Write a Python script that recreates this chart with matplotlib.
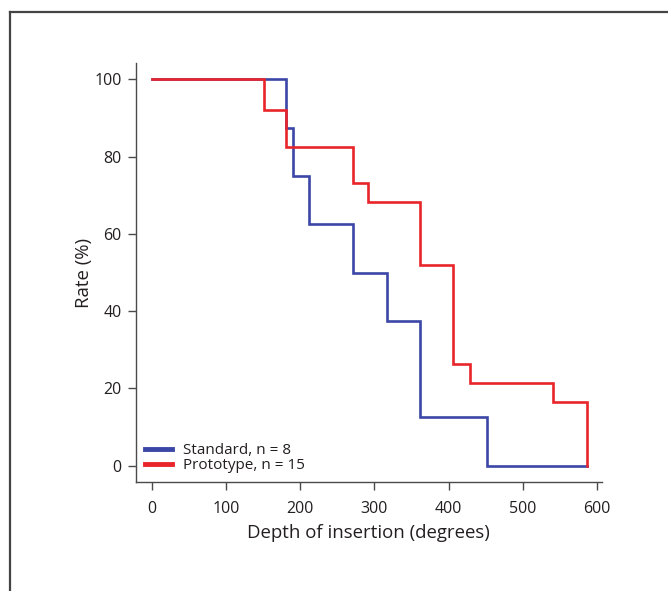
import matplotlib
matplotlib.use("Agg")
import matplotlib.pyplot as plt
from matplotlib.lines import Line2D

plt.rcParams['font.family'] = ['Open Sans', 'DejaVu Sans']

# Kaplan-Meier style step data
standard_depth = [0, 180.6, 190.8, 212, 271, 317, 361.6, 451.5, 586.7]
standard_rate = [100, 87.5, 75, 62.5, 50, 37.5, 12.5, 0, 0]

prototype_depth = [0, 151.8, 180.6, 271, 292, 361.6, 406.5, 429, 541.3, 586.7]
prototype_rate = [100, 92.1, 82.6, 73.1, 68.3, 51.9, 26.2, 21.3, 16.6, 0]

series_labels = ["Standard, n = 8", "Prototype, n = 15"]
x_ticks = [0, 100, 200, 300, 400, 500, 600]
y_ticks = [0, 20, 40, 60, 80, 100]

blue = "#3a47a6"
red = "#e8252b"
ink = "#231f20"
spine_col = "#4a4a4a"

fig = plt.figure(figsize=(6.68, 5.91), dpi=100)
ax = fig.add_axes([0.2031, 0.1839, 0.6977, 0.7100])

ax.step(standard_depth, standard_rate, where='post', color=blue, lw=1.9,
        solid_joinstyle='miter')
ax.step(prototype_depth, prototype_rate, where='post', color=red, lw=1.9,
        solid_joinstyle='miter')

ax.set_xlim(-21.6, 606.5)
ax.set_ylim(-4.3, 104.3)
ax.set_xticks(x_ticks)
ax.set_yticks(y_ticks)

for side in ('top', 'right'):
    ax.spines[side].set_visible(False)
for side in ('left', 'bottom'):
    ax.spines[side].set_color(spine_col)
    ax.spines[side].set_linewidth(1.0)

ax.tick_params(axis='both', direction='out', length=6, width=1.0,
               color=spine_col, labelsize=11.5, labelcolor=ink)
ax.tick_params(axis='y', pad=4)
ax.tick_params(axis='x', pad=7.5)

ax.set_xlabel("Depth of insertion (degrees)", fontsize=13.4, color=ink, labelpad=5)
ax.set_ylabel("Rate (%)", fontsize=13.4, color=ink, labelpad=1)

handles = [Line2D([], [], color=blue, lw=3.5), Line2D([], [], color=red, lw=3.5)]
ax.legend(handles, series_labels, loc='lower left', bbox_to_anchor=(0.0, 0.0),
          frameon=False, fontsize=11.0, handlelength=1.75, handletextpad=0.75,
          labelspacing=0.0, borderaxespad=0.3, borderpad=0.3, labelcolor=ink)

# outer frame lines (top and left)
W, H = 668, 591
fig.add_artist(Line2D([9.5 / W, 1.0], [1 - 11.7 / H, 1 - 11.7 / H],
                      transform=fig.transFigure, color="#444444", lw=1.6))
fig.add_artist(Line2D([9.5 / W, 9.5 / W], [0.0, 1 - 11.7 / H],
                      transform=fig.transFigure, color="#444444", lw=1.6))

fig.savefig("out.png", dpi=100)
